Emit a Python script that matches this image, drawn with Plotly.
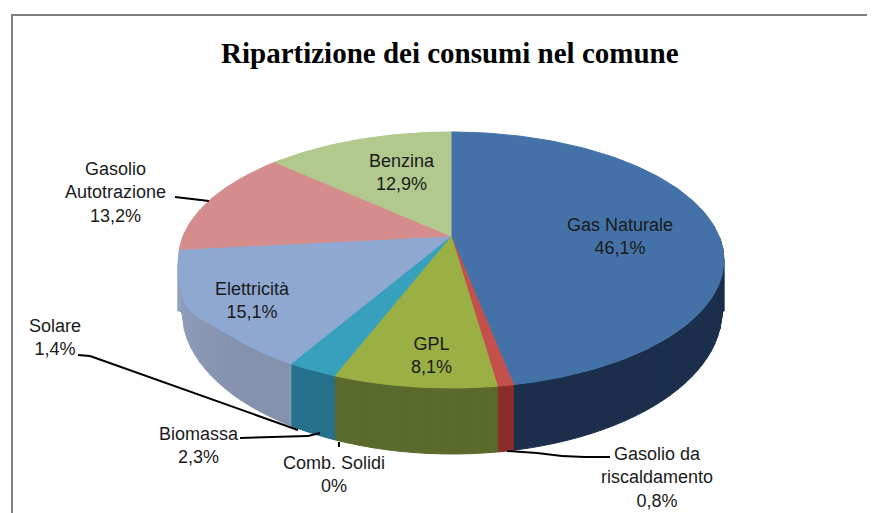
import math
import numpy as np
import plotly.graph_objects as go

title = "Ripartizione dei consumi nel comune"
categories = ["Gas Naturale", "Gasolio da riscaldamento", "GPL", "Comb. Solidi",
              "Biomassa", "Solare", "Elettricità", "Gasolio Autotrazione", "Benzina"]
values = [46.1, 0.8, 8.1, 0.0, 2.3, 1.4, 15.1, 13.2, 12.9]
top_colors = ["#4472A8", "#C4504C", "#9BB044", "#37A0BD", "#37A0BD", "#37A0BD",
              "#8FA8D2", "#D48D8C", "#B2C98E"]
side_colors = ["#1B2F4D", "#8A2C2A", "#5A6A2C", "#25708C", "#25708C", "#25708C",
               "#8492AE", None, None]
label_texts = ["Gas Naturale<br>46,1%", "Gasolio da<br>riscaldamento<br>0,8%", "GPL<br>8,1%",
               "Comb. Solidi<br>0%", "Biomassa<br>2,3%", "Solare<br>1,4%",
               "Elettricità<br>15,1%", "Gasolio<br>Autotrazione<br>13,2%", "Benzina<br>12,9%"]
label_x = [620, 657, 431, 334, 199, 55, 252, 115, 402]
label_y = [236, 477, 355, 474, 445, 337, 300, 192, 172]

# view of the tilted disc
CX, CY, A, B, K = 451, 236, 268, 123.5, 0.1875
BOTTOM_CX, BOTTOM_CY, BOTTOM_RX, BOTTOM_RY = 452, 311, 270, 143
WARP_AT = [0, 166, 198, 211.5, 266, 313, 360]
WARP_BY = [0, 2.9, 2.9, -1.5, -1.2, -1.2, 0]
TOTAL = sum(values)


def project(pct):
    deg = pct / TOTAL * 360
    deg += float(np.interp(deg, WARP_AT, WARP_BY))
    th = math.radians(deg)
    u, v = math.sin(th), -math.cos(th)
    w = 1 - K * v
    x, y = CX + A * u / w, CY + B * v / w
    if 225 < deg < 270:
        y += 14 * math.sin(math.radians(4 * (deg - 225))) ** 2
    return x, y


def bottom_y(x):
    d = min(1.0, abs(x - BOTTOM_CX) / BOTTOM_RX)
    return BOTTOM_CY + BOTTOM_RY * math.sqrt(1 - d * d)


def shade(hex_color, f):
    r, g, b = (int(hex_color[i:i + 2], 16) for i in (1, 3, 5))
    return "rgb(%d,%d,%d)" % (min(255, r * f), min(255, g * f), min(255, b * f))


fig = go.Figure()
cum = 0.0
starts = []
for val in values:
    starts.append(cum)
    cum += val

# side wall, only the visible front part
for val, start, col in zip(values, starts, side_colors):
    if val == 0 or col is None:
        continue
    n = max(2, int(val * 1.5))
    for i in range(n):
        p0 = start + val * i / n
        p1 = start + val * (i + 1) / n
        mid = (p0 + p1) / 2
        if mid < 25:
            continue
        x0, y0 = project(p0)
        x1, y1 = project(p1)
        f = 1.0 + 0.12 * max(0, (mid - 62) / 12)
        c = shade(col, f)
        fig.add_trace(go.Scatter(x=[x0, x1, x1, x0, x0],
                                 y=[y0, y1, bottom_y(x1), bottom_y(x0), y0],
                                 mode="lines", fill="toself", fillcolor=c,
                                 line=dict(color=c, width=1),
                                 hoverinfo="skip", showlegend=False))

# top face
for val, start, col, name in zip(values, starts, top_colors, categories):
    if val == 0:
        continue
    n = max(3, int(val * 3))
    pts = [project(start + val * i / n) for i in range(n + 1)]
    xs = [CX] + [p[0] for p in pts] + [CX]
    ys = [CY] + [p[1] for p in pts] + [CY]
    fig.add_trace(go.Scatter(x=xs, y=ys, mode="lines", fill="toself", fillcolor=col,
                             line=dict(color=col, width=1), name=name,
                             hoverinfo="name", showlegend=False))

leaders = [
    [(507, 451), (537, 453), (562, 456), (585, 457), (610, 457)],
    [(339, 442), (339, 447)],
    [(320, 433), (308, 436), (240, 438)],
    [(298, 430), (90, 356), (78, 355)],
    [(175, 197), (209, 201)],
]
shapes = [dict(type="rect", xref="x", yref="y", x0=12, y0=15, x1=900, y1=540,
               line=dict(color="#808080", width=2), fillcolor="rgba(0,0,0,0)")]
for path in leaders:
    for (a, b), (c, d) in zip(path, path[1:]):
        shapes.append(dict(type="line", xref="x", yref="y", x0=a, y0=b, x1=c, y1=d,
                           line=dict(color="black", width=2)))

annotations = [dict(x=x, y=y, text=t, showarrow=False, xref="x", yref="y",
                    font=dict(family="Liberation Sans", size=18, color="#1a1a1a"))
               for x, y, t in zip(label_x, label_y, label_texts)]
annotations.append(dict(x=450, y=53, text="<b>%s</b>" % title, showarrow=False,
                        xref="x", yref="y",
                        font=dict(family="Liberation Serif", size=29, color="black")))

# the page has an 8 px body margin: size the figure to what remains
fig.update_layout(
    width=867, height=505, margin=dict(l=0, r=0, t=0, b=0),
    paper_bgcolor="white", plot_bgcolor="white",
    xaxis=dict(range=[8, 875], visible=False, fixedrange=True),
    yaxis=dict(range=[513, 8], visible=False, fixedrange=True),
    shapes=shapes, annotations=annotations, showlegend=False,
)
fig.write_html("out.html")
